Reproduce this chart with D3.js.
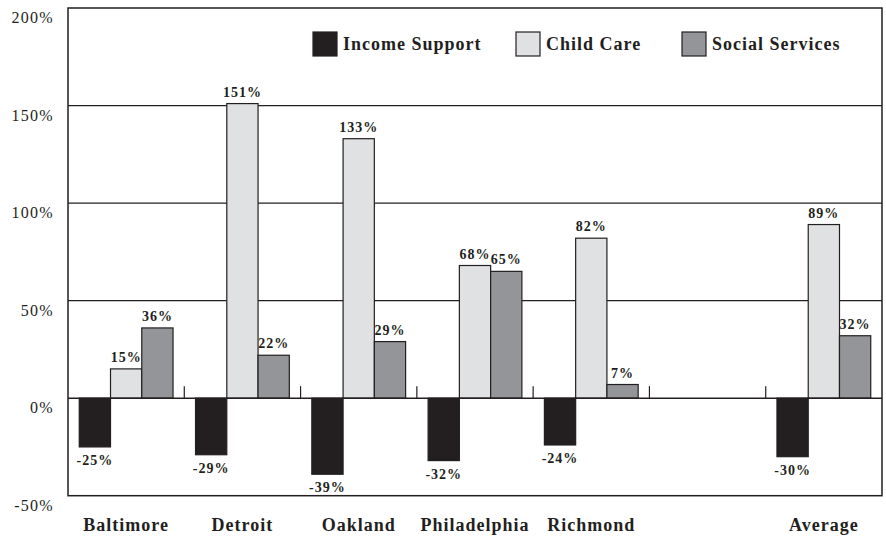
<!DOCTYPE html>
<html>
<head>
<meta charset="utf-8">
<script src="https://cdn.jsdelivr.net/npm/d3@7"></script>
<style>
  body { margin: 0; background: #fff; overflow: hidden; }
  svg { display: block; font-family: "Liberation Serif", "DejaVu Serif", serif; }
</style>
</head>
<body>
<div class="chart"></div>
<script>
// chart data
const categories = ["Baltimore", "Detroit", "Oakland", "Philadelphia", "Richmond", "", "Average"];
const series = ["Income Support", "Child Care", "Social Services"];
const incomeSupport = [-25, -29, -39, -32, -24, null, -30];
const childCare = [15, 151, 133, 68, 82, null, 89];
const socialServices = [36, 22, 29, 65, 7, null, 32];
const yTicks = [-50, 0, 50, 100, 150, 200];

const colors = ["#231f20", "#e0e1e3", "#939598"];
const ink = "#231f20";

const width = 886, height = 537;
const plot = { left: 68, right: 882, top: 8, bottom: 495.7 };

const svg = d3.select(".chart")
              .append("svg")
              .attr("width", width)
              .attr("height", height);

const x = d3.scaleBand()
            .domain(categories.map((d, i) => i))
            .range([plot.left, plot.right])
            .paddingInner(0)
            .paddingOuter(0);

const xSeries = d3.scaleBand()
                  .domain(series)
                  .range([0, x.bandwidth()])
                  .paddingOuter(0.36)
                  .paddingInner(0);

const y = d3.scaleLinear()
            .domain([-50, 200])
            .range([plot.bottom, plot.top]);

// gridlines
svg.selectAll(".grid")
   .data(yTicks.filter(d => d > 0 && d < 200))
   .enter()
   .append("line")
   .attr("x1", plot.left)
   .attr("x2", plot.right)
   .attr("y1", d => y(d))
   .attr("y2", d => y(d))
   .style("stroke", ink)
   .style("stroke-width", 1.3);

// y tick labels (sit a little below their line, as in the original)
svg.selectAll(".ylabel")
   .data(yTicks)
   .enter()
   .append("text")
   .attr("x", 54)
   .attr("y", d => y(d) + 15)
   .style("text-anchor", "end")
   .style("font-size", "16px")
   .style("letter-spacing", "1.3px")
   .style("fill", ink)
   .text(d => d + "%");

const rows = categories.map((c, i) => ({
  i,
  values: [incomeSupport[i], childCare[i], socialServices[i]]
}));

const groups = svg.selectAll(".group")
                  .data(rows)
                  .enter()
                  .append("g")
                  .attr("transform", d => `translate(${x(d.i)},0)`);

const bars = groups.selectAll("g.bar")
                   .data(d => d.values.map((v, k) => ({ v, k })).filter(e => e.v !== null))
                   .enter()
                   .append("g")
                   .attr("class", "bar");

bars.append("rect")
    .attr("x", d => xSeries(series[d.k]))
    .attr("width", xSeries.bandwidth())
    .attr("y", d => y(Math.max(0, d.v)))
    .attr("height", d => Math.abs(y(d.v) - y(0)))
    .style("fill", d => colors[d.k])
    .style("stroke", ink)
    .style("stroke-width", 1.2);

bars.append("text")
    .attr("x", d => xSeries(series[d.k]) + xSeries.bandwidth() / 2)
    .attr("y", d => d.v >= 0 ? y(d.v) - 7 : y(d.v) + 18)
    .style("text-anchor", "middle")
    .style("font-size", "14px")
    .style("letter-spacing", "1px")
    .style("font-weight", "bold")
    .style("fill", ink)
    .text(d => d.v + "%");

// zero line and small ticks between categories
svg.append("line")
   .attr("x1", plot.left)
   .attr("x2", plot.right)
   .attr("y1", y(0))
   .attr("y2", y(0))
   .style("stroke", ink)
   .style("stroke-width", 1.5);

svg.selectAll(".tick")
   .data(categories.slice(1).map((d, i) => i + 1))
   .enter()
   .append("line")
   .attr("x1", d => x(d))
   .attr("x2", d => x(d))
   .attr("y1", y(0))
   .attr("y2", y(0) - 12)
   .style("stroke", ink)
   .style("stroke-width", 1.2);

// frame
svg.append("rect")
   .attr("x", plot.left)
   .attr("y", plot.top)
   .attr("width", plot.right - plot.left)
   .attr("height", plot.bottom - plot.top)
   .style("fill", "none")
   .style("stroke", ink)
   .style("stroke-width", 1.5);

// category labels
svg.selectAll(".xlabel")
   .data(categories)
   .enter()
   .append("text")
   .attr("x", (d, i) => x(i) + x.bandwidth() / 2)
   .attr("y", 531)
   .style("text-anchor", "middle")
   .style("font-size", "18px")
   .style("letter-spacing", "1px")
   .style("font-weight", "bold")
   .style("fill", ink)
   .text(d => d);

// legend
const legendX = [313, 516, 682];
const legend = svg.selectAll(".legend")
                  .data(series)
                  .enter()
                  .append("g")
                  .attr("transform", (d, i) => `translate(${legendX[i]},32)`);

legend.append("rect")
      .attr("width", 24)
      .attr("height", 24)
      .style("fill", (d, i) => colors[i])
      .style("stroke", ink)
      .style("stroke-width", 1.2);

legend.append("text")
      .attr("x", 30)
      .attr("y", 18)
      .style("font-size", "18px")
      .style("letter-spacing", "1px")
      .style("font-weight", "bold")
      .style("fill", ink)
      .text(d => d);
</script>
</body>
</html>
